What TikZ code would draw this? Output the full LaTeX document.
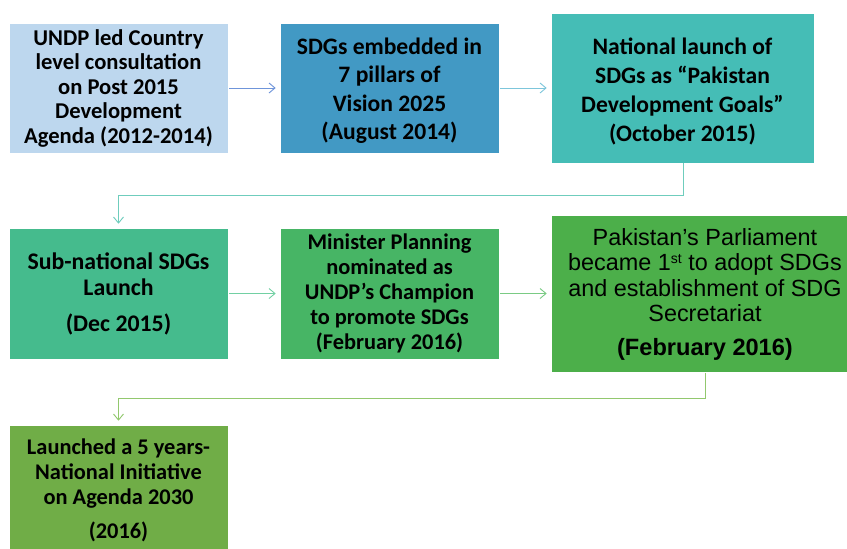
\documentclass[tikz,border=0pt]{standalone}
\usepackage{fontspec}
\setmainfont{Carlito}
\newfontfamily\arialfont{Liberation Sans}
\usetikzlibrary{arrows.meta}
\definecolor{cA}{HTML}{BDD7EE}
\definecolor{cB}{HTML}{4299C4}
\definecolor{cC}{HTML}{45BDB6}
\definecolor{cD}{HTML}{45BB8D}
\definecolor{cE}{HTML}{47B565}
\definecolor{cF}{HTML}{4CAF4A}
\definecolor{cG}{HTML}{70AD47}
\definecolor{lA}{HTML}{6F95DA}
\definecolor{lB}{HTML}{7DC6DB}
\definecolor{lC}{HTML}{6FCDBD}
\definecolor{lD}{HTML}{72D0A3}
\definecolor{lE}{HTML}{7ACB84}
\definecolor{lF}{HTML}{92C86E}
\tikzset{
  stepbox/.style={rectangle, draw=white, line width=0.6pt, align=center, inner sep=0pt},
  conn/.style={line width=0.9pt, -{Straight Barb[length=6pt,width=10pt,line width=0.9pt]}, shorten >=4pt, shorten <=1pt}
}
\begin{document}
\begin{tikzpicture}[x=1pt,y=-1pt]
\useasboundingbox (0,0) rectangle (847,549);
\node[stepbox, fill=cA, minimum width=219pt, minimum height=130pt, font=\bfseries\fontsize{22.6}{24.5}\selectfont] (b1) at (118.5,88)
  {UNDP led Country\\level consultation\\on Post 2015\\Development\\Agenda (2012-2014)};
\node[stepbox, fill=cB, minimum width=219pt, minimum height=130pt] (b2) at (389.5,88) {};
\node[align=center, inner sep=0pt, font=\bfseries\fontsize{23.6}{28.5}\selectfont] at (389.5,90.5)
  {SDGs embedded in\\7 pillars of\\Vision 2025\\(August 2014)};
\node[stepbox, fill=cC, minimum width=263pt, minimum height=150pt] (b3) at (682.5,88) {};
\node[align=center, inner sep=0pt, font=\bfseries\fontsize{23.6}{29}\selectfont] at (682.5,91)
  {National launch of\\SDGs as “Pakistan\\Development Goals”\\(October 2015)};
\node[stepbox, fill=cD, minimum width=219pt, minimum height=131pt, font=\bfseries\fontsize{23.8}{26}\selectfont] (b4) at (118.5,293.5)
  {Sub-national SDGs\\Launch\\[10pt](Dec 2015)};
\node[stepbox, fill=cE, minimum width=219pt, minimum height=131pt, font=\bfseries\fontsize{22.4}{25}\selectfont] (b5) at (389.5,293.5)
  {Minister Planning\\nominated as\\UNDP’s Champion\\to promote SDGs\\(February 2016)};
\node[stepbox, fill=cF, minimum width=308pt, minimum height=157pt, font=\arialfont\fontsize{23.4}{25.5}\selectfont] (b6) at (705,294)
  {Pakistan’s Parliament\\became 1{\fontsize{14}{14}\selectfont\raisebox{7pt}{st}} to adopt SDGs\\and establishment of SDG\\Secretariat\\[8pt]{\fontsize{23.6}{25}\selectfont\bfseries (February 2016)}};
\node[stepbox, fill=cG, minimum width=219pt, minimum height=130pt, font=\bfseries\fontsize{22.4}{25}\selectfont] (b7) at (118.5,490)
  {Launched a 5 years-\\National Initiative\\on Agenda 2030\\[9pt](2016)};
\coordinate (k1) at (683,195);
\coordinate (k2) at (705,398);
\draw[conn, draw=lA] (b1) -- (b2);
\draw[conn, draw=lB] (b2) -- (b2 -| b3.west);
\draw[conn, draw=lC, shorten <=0pt] (b3.south -| k1) -- (k1) -| (b4.north);
\draw[conn, draw=lD] (b4) -- (b5);
\draw[conn, draw=lE] (b5) -- (b5 -| b6.west);
\draw[conn, draw=lF, shorten <=0pt] (b6.south -| k2) -- (k2) -| (b7.north);
\end{tikzpicture}
\end{document}
